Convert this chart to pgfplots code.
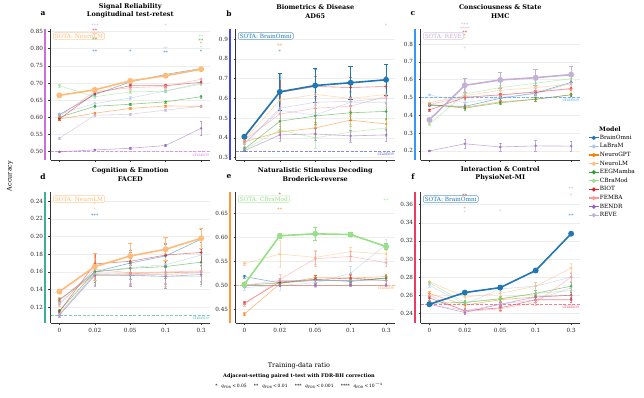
\documentclass[border=0pt]{standalone}
\usepackage{fontspec}
\setmainfont{DejaVu Serif}
\usepackage{pgfplots}
\usepackage{pgfplotstable}
\pgfplotsset{compat=1.18}

% model colours
\definecolor{c1}{HTML}{1F77B4}  % BrainOmni
\definecolor{c2}{HTML}{AEC7E8}  % LaBraM
\definecolor{c3}{HTML}{FF7F0E}  % NeuroGPT
\definecolor{c4}{HTML}{FFBB78}  % NeuroLM
\definecolor{c5}{HTML}{2CA02C}  % EEGMamba
\definecolor{c6}{HTML}{98DF8A}  % CBraMod
\definecolor{c7}{HTML}{D62728}  % BIOT
\definecolor{c8}{HTML}{FF9896}  % FEMBA
\definecolor{c9}{HTML}{9467BD}  % BENDR
\definecolor{c10}{HTML}{C5B0D5} % REVE
% task-family colours
\definecolor{barA}{RGB}{205,110,215}
\definecolor{barB}{RGB}{70,70,215}
\definecolor{barC}{RGB}{55,150,250}
\definecolor{barD}{RGB}{60,175,155}
\definecolor{barE}{RGB}{255,150,60}
\definecolor{barF}{RGB}{232,60,100}
\definecolor{spine}{HTML}{333333}

\newcommand{\fs}[1]{\fontsize{#1}{#1}\selectfont}

% columns: bo=BrainOmni lb=LaBraM ng=NeuroGPT nl=NeuroLM em=EEGMamba cb=CBraMod
%          bi=BIOT fe=FEMBA be=BENDR re=REVE ; e* = error half-widths
\pgfplotstableread{
x bo lb ng nl em cb bi fe be re ebo elb eng enl eem ecb ebi efe ebe ere
0 0.608 0.610 0.595 0.664 0.600 0.692 0.595 0.603 0.500 0.539 0.003 0.003 0.003 0.003 0.003 0.003 0.003 0.003 0.002 0.004
1 0.666 0.640 0.612 0.680 0.632 0.660 0.670 0.675 0.505 0.606 0.004 0.004 0.003 0.003 0.003 0.004 0.004 0.004 0.002 0.004
2 0.703 0.656 0.626 0.706 0.638 0.674 0.692 0.686 0.510 0.609 0.004 0.004 0.003 0.003 0.003 0.004 0.004 0.004 0.003 0.004
3 0.725 0.677 0.633 0.721 0.645 0.676 0.692 0.690 0.518 0.621 0.004 0.004 0.003 0.003 0.003 0.004 0.004 0.004 0.003 0.004
4 0.742 0.700 0.632 0.740 0.660 0.697 0.702 0.711 0.568 0.632 0.004 0.004 0.003 0.003 0.003 0.004 0.004 0.004 0.021 0.004
}\tabA
\pgfplotstableread{
x bo lb ng nl em cb bi fe be re ebo elb eng enl eem ecb ebi efe ebe ere
0 0.406 0.370 0.380 0.390 0.343 0.340 0.400 0.390 0.335 0.370 0.008 0.020 0.010 0.010 0.010 0.010 0.010 0.010 0.005 0.010
1 0.633 0.540 0.430 0.590 0.484 0.440 0.630 0.520 0.415 0.550 0.092 0.050 0.030 0.060 0.040 0.040 0.060 0.050 0.030 0.050
2 0.665 0.515 0.450 0.620 0.511 0.400 0.660 0.550 0.420 0.580 0.085 0.050 0.030 0.050 0.040 0.050 0.050 0.050 0.030 0.050
3 0.679 0.580 0.490 0.600 0.527 0.430 0.655 0.560 0.410 0.585 0.083 0.050 0.030 0.060 0.040 0.040 0.050 0.050 0.030 0.050
4 0.694 0.580 0.470 0.620 0.534 0.450 0.660 0.610 0.415 0.600 0.080 0.050 0.030 0.050 0.040 0.040 0.050 0.050 0.030 0.050
}\tabB
\pgfplotstableread{
x bo lb ng nl em cb bi fe be re ebo elb eng enl eem ecb ebi efe ebe ere
0 0.455 0.515 0.460 0.470 0.460 0.350 0.430 0.460 0.200 0.374 0.005 0.005 0.005 0.005 0.005 0.005 0.005 0.005 0.003 0.010
1 0.450 0.470 0.445 0.510 0.440 0.520 0.500 0.505 0.240 0.568 0.010 0.015 0.010 0.015 0.010 0.015 0.010 0.015 0.025 0.040
2 0.495 0.500 0.475 0.540 0.470 0.555 0.515 0.510 0.222 0.598 0.010 0.015 0.010 0.015 0.010 0.015 0.010 0.015 0.022 0.045
3 0.525 0.520 0.490 0.555 0.490 0.580 0.530 0.535 0.228 0.611 0.010 0.015 0.010 0.015 0.010 0.015 0.010 0.015 0.030 0.045
4 0.585 0.580 0.515 0.575 0.515 0.605 0.550 0.545 0.227 0.628 0.010 0.015 0.010 0.015 0.010 0.015 0.010 0.015 0.028 0.045
}\tabC
\pgfplotstableread{
x bo lb ng nl em cb bi fe be re ebo elb eng enl eem ecb ebi efe ebe ere
0 0.128 0.125 0.129 0.1377 0.116 0.113 0.115 0.123 0.111 0.112 0.002 0.002 0.002 0.002 0.002 0.002 0.002 0.002 0.002 0.002
1 0.160 0.160 0.157 0.166 0.160 0.157 0.169 0.163 0.156 0.158 0.012 0.012 0.012 0.015 0.012 0.012 0.012 0.012 0.012 0.012
2 0.170 0.165 0.158 0.178 0.164 0.156 0.172 0.159 0.156 0.157 0.012 0.012 0.012 0.014 0.012 0.012 0.012 0.012 0.012 0.012
3 0.178 0.168 0.159 0.1855 0.166 0.155 0.179 0.160 0.155 0.157 0.013 0.013 0.013 0.013 0.013 0.013 0.013 0.013 0.013 0.013
4 0.197 0.179 0.160 0.198 0.171 0.155 0.182 0.161 0.157 0.159 0.011 0.011 0.011 0.011 0.011 0.011 0.011 0.011 0.011 0.011
}\tabD
\pgfplotstableread{
x bo lb ng nl em cb bi fe be re ebo elb eng enl eem ecb ebi efe ebe ere
0 0.518 0.495 0.440 0.545 0.500 0.502 0.463 0.460 0.500 0.500 0.003 0.005 0.003 0.004 0.003 0.004 0.003 0.004 0.002 0.003
1 0.505 0.500 0.503 0.565 0.505 0.603 0.507 0.512 0.500 0.510 0.005 0.010 0.005 0.028 0.005 0.006 0.008 0.012 0.002 0.005
2 0.512 0.505 0.516 0.558 0.510 0.607 0.512 0.555 0.500 0.510 0.005 0.010 0.005 0.015 0.005 0.013 0.008 0.015 0.002 0.005
3 0.508 0.525 0.515 0.570 0.510 0.6055 0.515 0.560 0.500 0.510 0.005 0.015 0.005 0.010 0.005 0.004 0.008 0.010 0.002 0.005
4 0.515 0.585 0.518 0.565 0.515 0.5805 0.510 0.547 0.500 0.510 0.005 0.010 0.005 0.008 0.005 0.006 0.005 0.008 0.002 0.005
}\tabE
\pgfplotstableread{
x bo lb ng nl em cb bi fe be re ebo elb eng enl eem ecb ebi efe ebe ere
0 0.250 0.271 0.262 0.275 0.251 0.274 0.257 0.260 0.250 0.250 0.001 0.002 0.002 0.001 0.002 0.002 0.002 0.002 0.001 0.002
1 0.2629 0.250 0.249 0.258 0.252 0.252 0.243 0.242 0.241 0.243 0.0015 0.003 0.003 0.003 0.003 0.003 0.003 0.003 0.002 0.003
2 0.2684 0.267 0.255 0.262 0.256 0.256 0.246 0.245 0.250 0.250 0.002 0.003 0.003 0.005 0.003 0.003 0.003 0.003 0.002 0.003
3 0.2873 0.270 0.258 0.270 0.262 0.262 0.255 0.252 0.258 0.255 0.0015 0.004 0.003 0.004 0.003 0.003 0.003 0.003 0.002 0.003
4 0.3279 0.280 0.260 0.290 0.270 0.265 0.255 0.280 0.260 0.268 0.002 0.004 0.003 0.005 0.004 0.003 0.003 0.004 0.003 0.004
}\tabF

\pgfplotsset{
  panel/.style={
    scale only axis, width=159.5bp, height=131bp, anchor=south west,
    xmin=-0.25, xmax=4.25, xtick={0,1,2,3,4},
    axis x line*=bottom, axis y line*=left,
    axis line style={spine, line width=0.6bp},
    tick align=outside, major tick length=2bp,
    tick style={spine, line width=0.5bp},
    ymajorgrids, grid style={black!7, line width=0.4bp},
    tick label style={font=\fs{5.7}, text=black!85},
    /pgf/number format/assume math mode=true,
    yticklabel style={/pgf/number format/fixed, /pgf/number format/fixed zerofill,
                      /pgf/number format/precision=2, xshift=-2bp},
    clip=false,
  },
  prec1/.style={yticklabel style={/pgf/number format/precision=1}},
  toprow/.style={xticklabels={}},
  botrow/.style={xticklabels={0,0.02,0.05,0.1,0.3}},
  ser/.style={color=#1, mark=*, mark size=1.1bp, line width=0.6bp, opacity=0.55,
     error bars/.cd, y dir=both, y explicit,
     error bar style={line width=0.4bp},
     error mark options={rotate=90, mark size=1.3bp, line width=0.4bp}},
  sota/.style={color=#1, mark=*, mark size=2.1bp, line width=1.6bp, opacity=1,
     error bars/.cd, y dir=both, y explicit,
     error bar style={line width=0.7bp},
     error mark options={rotate=90, mark size=2.2bp, line width=0.7bp}},
}

% all ten models of one task
\newcommand{\plotall}[1]{%
  \addplot[ser=c1]  table[x=x,y=bo,y error=ebo]{#1};
  \addplot[ser=c2]  table[x=x,y=lb,y error=elb]{#1};
  \addplot[ser=c3]  table[x=x,y=ng,y error=eng]{#1};
  \addplot[ser=c4]  table[x=x,y=nl,y error=enl]{#1};
  \addplot[ser=c5]  table[x=x,y=em,y error=eem]{#1};
  \addplot[ser=c6]  table[x=x,y=cb,y error=ecb]{#1};
  \addplot[ser=c7]  table[x=x,y=bi,y error=ebi]{#1};
  \addplot[ser=c8]  table[x=x,y=fe,y error=efe]{#1};
  \addplot[ser=c9]  table[x=x,y=be,y error=ebe]{#1};
  \addplot[ser=c10] table[x=x,y=re,y error=ere]{#1};
}
% best model redrawn on top
\newcommand{\plotsota}[3]{\addplot[sota=#1] table[x=x,y=#2,y error=e#2]{#3};}
% chance level
\newcommand{\chance}[2]{%
  \addplot[#1, dash pattern=on 3bp off 1.6bp, line width=0.6bp, opacity=0.65]
    coordinates {(-0.25,#2) (4.25,#2)};
  \node[anchor=north east, text=#1, font=\fs{4.6}, inner sep=0.8bp, opacity=0.8]
    at (axis cs:4.25,#2) {chance};}
% coloured task-family bar beside the y axis
\newcommand{\sidebar}[1]{%
  \draw[#1, line width=2.2bp] ([xshift=-5.5bp]rel axis cs:0,0) -- ([xshift=-5.5bp]rel axis cs:0,1);}
% best-model box
\newcommand{\sotabox}[2]{%
  \node[anchor=north west, draw=#1!70, fill=white, rounded corners=1.2bp, inner xsep=1.5bp,
        inner ysep=1.1bp, text=#1, font=\fs{5.8}, line width=0.5bp]
    at ([xshift=2.5bp,yshift=-3.5bp]rel axis cs:0,1) {SOTA: #2};}
% significance stars
\newcommand{\st}[4]{\node[text=#1, font=\fs{4.8}, inner sep=0pt, text height=1.6bp,
   text depth=0pt, yshift=-1.6bp, opacity=0.85] at (axis cs:#2,#3) {#4};}
% panel title
\newcommand{\ptitle}[1]{\node[font=\bfseries\fontsize{6.5}{8.3}\selectfont, align=center, anchor=south, inner sep=0pt]
    at ([yshift=10.5bp]rel axis cs:0.5,1) {#1};}

\begin{document}
\begin{tikzpicture}
\path[use as bounding box] (0bp,0bp) rectangle (644bp,398bp);

% ---------------- a ----------------
\begin{axis}[panel, toprow, at={(50.5bp,238bp)}, ymin=0.4758, ymax=0.857,
  ytick={0.50,0.55,0.60,0.65,0.70,0.75,0.80,0.85}]
  \plotall{\tabA}
  \plotsota{c4}{nl}{\tabA}
  \chance{barA}{0.5}
  \sidebar{barA}
  \sotabox{c4}{NeuroLM}
  \st{c10}{1}{0.869}{***} \st{c7}{1}{0.854}{**} \st{c8}{1}{0.843}{**}
  \st{c5}{1}{0.828}{**} \st{c1}{1}{0.794}{**}
  \st{c1}{2}{0.794}{*}
  \st{c10}{3}{0.869}{*} \st{c2}{3}{0.800}{**} \st{c1}{3}{0.791}{**}
  \st{c6}{4}{0.836}{**} \st{c5}{4}{0.826}{**} \st{c3}{4}{0.816}{*}
  \st{c2}{4}{0.803}{*} \st{c1}{4}{0.792}{*}
  \ptitle{Signal Reliability\\Longitudinal test-retest}
\end{axis}

% ---------------- b ----------------
\begin{axis}[panel, toprow, prec1, at={(235.5bp,238bp)}, ymin=0.288, ymax=0.951,
  ytick={0.3,0.4,0.5,0.6,0.7,0.8,0.9}]
  \plotall{\tabB}
  \plotsota{c1}{bo}{\tabB}
  \chance{barB}{0.3333}
  \sidebar{barB}
  \sotabox{c1}{BrainOmni}
  \st{c3}{1}{0.868}{**} \st{c1}{1}{0.841}{*}
  \st{c10}{4}{0.970}{*}
  \ptitle{Biometrics \& Disease\\AD65}
\end{axis}

% ---------------- c ----------------
\begin{axis}[panel, toprow, prec1, at={(420.5bp,238bp)}, ymin=0.149, ymax=0.884,
  ytick={0.2,0.3,0.4,0.5,0.6,0.7,0.8}]
  \plotall{\tabC}
  \plotsota{c10}{re}{\tabC}
  \chance{barC}{0.5}
  \sidebar{barC}
  \sotabox{c10}{REVE}
  \st{c10}{1}{0.910}{***} \st{c10}{1}{0.890}{****} \st{c7}{1}{0.864}{**}
  \st{c3}{1}{0.849}{*} \st{c4}{1}{0.832}{*} \st{c2}{1}{0.777}{*}
  \ptitle{Consciousness \& State\\HMC}
\end{axis}

% ---------------- d ----------------
\begin{axis}[panel, botrow, at={(50.5bp,75bp)}, ymin=0.1023, ymax=0.2502,
  ytick={0.12,0.14,0.16,0.18,0.20,0.22,0.24}]
  \plotall{\tabD}
  \plotsota{c4}{nl}{\tabD}
  \chance{barD}{0.1111}
  \sidebar{barD}
  \sotabox{c4}{NeuroLM}
  \st{c4}{1}{0.236}{*} \st{c4}{1}{0.231}{*} \st{c1}{1}{0.224}{***}
  \ptitle{Cognition \& Emotion\\FACED}
\end{axis}

% ---------------- e ----------------
\begin{axis}[panel, botrow, at={(235.5bp,75bp)}, ymin=0.4215, ymax=0.694,
  ytick={0.45,0.50,0.55,0.60,0.65}]
  \plotall{\tabE}
  \plotsota{c6}{cb}{\tabE}
  \chance{barE}{0.5}
  \sidebar{barE}
  \sotabox{c6}{CBraMod}
  \st{c7}{1}{0.689}{*} \st{c3}{1}{0.659}{**}
  \st{c6}{4}{0.678}{**}
  \ptitle{Naturalistic Stimulus Decoding\\Broderick-reverse}
\end{axis}

% ---------------- f ----------------
\begin{axis}[panel, botrow, at={(420.5bp,75bp)}, ymin=0.2293, ymax=0.374,
  ytick={0.24,0.26,0.28,0.30,0.32,0.34,0.36}]
  \plotall{\tabF}
  \plotsota{c1}{bo}{\tabF}
  \chance{barF}{0.25}
  \sidebar{barF}
  \sotabox{c1}{BrainOmni}
  \st{c7}{1}{0.371}{**} \st{c3}{1}{0.356}{*} \st{c2}{1}{0.352}{*}
  \st{c2}{2}{0.3526}{*}
  \st{c10}{4}{0.378}{**} \st{c8}{4}{0.371}{*} \st{c1}{4}{0.349}{**}
  \ptitle{Interaction \& Control\\PhysioNet-MI}
\end{axis}

% ---------------- legend ----------------
\begin{axis}[hide axis, scale only axis, width=10bp, height=10bp, anchor=north west,
  at={(588bp,263.5bp)}, xmin=0, xmax=1, ymin=0, ymax=1,
  legend style={at={(0,1)}, anchor=north west, draw=none, fill=none, font=\fs{5.8},
    inner sep=0pt, row sep=2.2bp, nodes={inner sep=0.5bp, text height=4.2bp, text depth=1.2bp}},
  legend cell align=left,
  legend image code/.code={\draw[mark repeat=2, mark phase=2, #1]
     plot coordinates {(0bp,0bp) (5bp,0bp) (10bp,0bp)};}]
  \addlegendimage{c1, mark=*, mark size=1.4bp, line width=1.2bp}\addlegendentry{BrainOmni}
  \addlegendimage{c2, mark=*, mark size=1.4bp, line width=1.2bp}\addlegendentry{LaBraM}
  \addlegendimage{c3, mark=*, mark size=1.4bp, line width=1.2bp}\addlegendentry{NeuroGPT}
  \addlegendimage{c4, mark=*, mark size=1.4bp, line width=1.2bp}\addlegendentry{NeuroLM}
  \addlegendimage{c5, mark=*, mark size=1.4bp, line width=1.2bp}\addlegendentry{EEGMamba}
  \addlegendimage{c6, mark=*, mark size=1.4bp, line width=1.2bp}\addlegendentry{CBraMod}
  \addlegendimage{c7, mark=*, mark size=1.4bp, line width=1.2bp}\addlegendentry{BIOT}
  \addlegendimage{c8, mark=*, mark size=1.4bp, line width=1.2bp}\addlegendentry{FEMBA}
  \addlegendimage{c9, mark=*, mark size=1.4bp, line width=1.2bp}\addlegendentry{BENDR}
  \addlegendimage{c10, mark=*, mark size=1.4bp, line width=1.2bp}\addlegendentry{REVE}
\end{axis}
\node[font=\bfseries\fs{6.2}] at (610bp,268.7bp) {Model};

% panel letters
\node[font=\bfseries\fs{7.5}] at (43bp,384bp) {a};
\node[font=\bfseries\fs{7.5}] at (229bp,384bp) {b};
\node[font=\bfseries\fs{7.5}] at (413bp,384bp) {c};
\node[font=\bfseries\fs{7.5}] at (43bp,221bp) {d};
\node[font=\bfseries\fs{7.5}] at (229bp,221bp) {e};
\node[font=\bfseries\fs{7.5}] at (413bp,221bp) {f};

% shared axis labels and significance key
\node[font=\fs{6.5}, rotate=90] at (10bp,222bp) {Accuracy};
\node[font=\fs{6.5}] at (299bp,32bp) {Training-data ratio};
\node[font=\bfseries\fs{5}] at (299bp,22bp) {Adjacent-setting paired t-test with FDR-BH correction};
\node[font=\fs{4.5}] at (299bp,13bp) {*\hspace{0.8em}{\itshape q}\textsubscript{FDR}\,<\,0.05\hspace{1.6em}**\hspace{0.8em}{\itshape q}\textsubscript{FDR}\,<\,0.01\hspace{1.6em}***\hspace{0.8em}{\itshape q}\textsubscript{FDR}\,<\,0.001\hspace{1.6em}****\hspace{0.8em}{\itshape q}\textsubscript{FDR}\,<\,10\textsuperscript{$-$4}};
\end{tikzpicture}
\end{document}
